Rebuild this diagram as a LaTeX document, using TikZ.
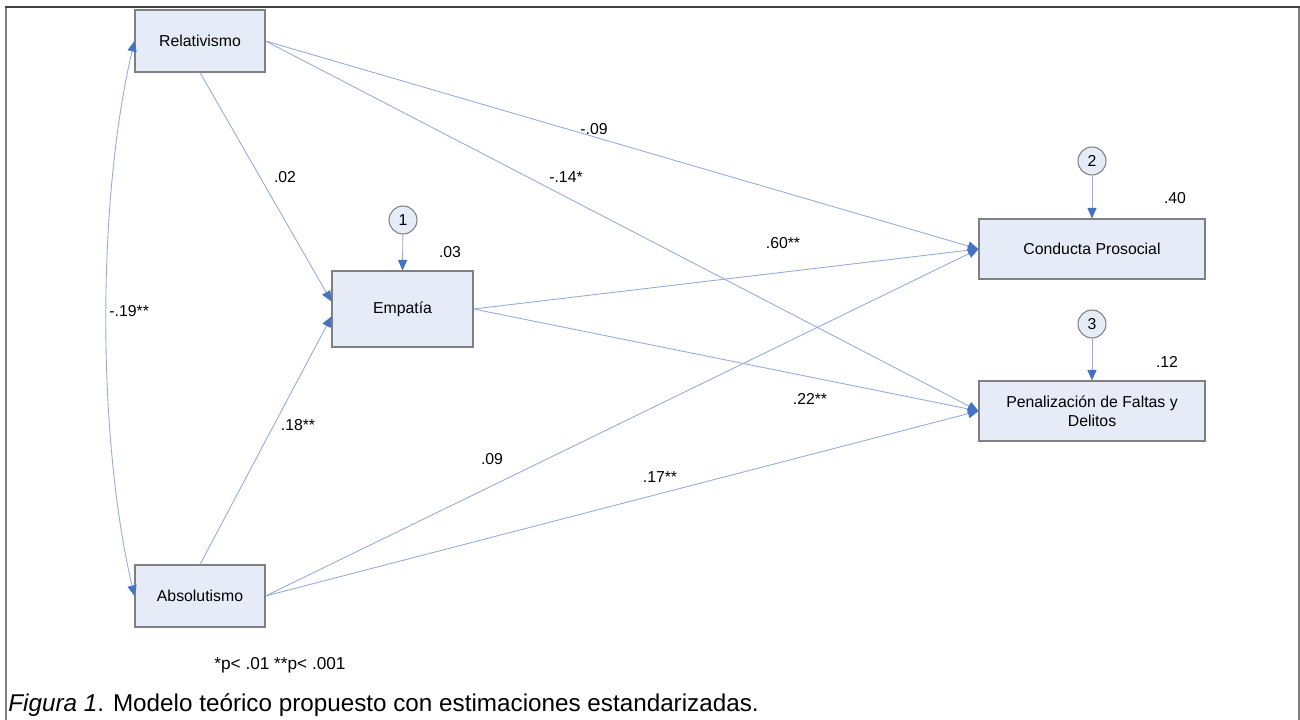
\documentclass[tikz,border=0pt]{standalone}
\usepackage{fontspec}
\setmainfont{Liberation Sans}
\usepackage{tikz}
\usetikzlibrary{arrows.meta}
\definecolor{boxfill}{HTML}{E6ECF7}
\definecolor{boxline}{HTML}{808080}
\definecolor{linkblue}{HTML}{95ABD8}
\definecolor{tipblue}{HTML}{4472C4}
\definecolor{framegray}{HTML}{404040}

\begin{document}
\begin{tikzpicture}[x=0.2mm,y=-0.2mm,
    var/.style={draw=boxline,fill=boxfill,line width=0.6pt,inner sep=2pt,
      font=\fontsize{9}{11}\selectfont,align=center},
    errc/.style={circle,draw=boxline,fill=boxfill,line width=0.6pt,inner sep=0pt,
      minimum size=5.6mm,font=\fontsize{9}{11}\selectfont},
    coef/.style={draw=linkblue,line width=0.5pt,-{Triangle[length=6pt,width=5.2pt,color=tipblue]}},
    lbl/.style={font=\fontsize{9}{11}\selectfont,inner sep=0pt}]
  \useasboundingbox (0,0) rectangle (1300,720);
  % frame
  \draw[boxline,line width=0.8pt] (6,720)--(6,7);
  \draw[boxline,line width=0.8pt] (1299,7)--(1299,720);
  \draw[framegray,line width=1.3pt] (5,7)--(1300,7);
  % variables
  \node[var,minimum width=26mm,minimum height=12.4mm] (rel) at (200,41) {Relativismo};
  \node[var,minimum width=26mm,minimum height=12.4mm] (abs) at (200,596) {Absolutismo};
  \node[var,minimum width=28.2mm,minimum height=15.2mm] (emp) at (402.5,309) {Empatía};
  \node[var,minimum width=45.2mm,minimum height=12mm] (cp) at (1092,249) {Conducta Prosocial};
  \node[var,minimum width=45.2mm,minimum height=12mm] (pen) at (1092,411) {Penalización de Faltas y\\Delitos};
  % errors
  \node[errc] (e1) at (403,220) {1};
  \node[errc] (e2) at (1092,161) {2};
  \node[errc] (e3) at (1092,324) {3};
  \draw[coef] (e1) -- (emp.north);
  \draw[coef] (e2) -- (cp.north);
  \draw[coef] (e3) -- (pen.north);
  % paths
  \draw[coef] (rel.east) -- (cp.west);
  \draw[coef] (rel.east) -- (pen.west);
  \draw[coef] (rel.south) -- (emp.174);
  \draw[coef] (abs.north) -- (emp.186);
  \draw[coef] (emp.east) -- (cp.west);
  \draw[coef] (emp.east) -- (pen.west);
  \draw[coef] (abs.east) -- (cp.west);
  \draw[coef] (abs.east) -- (pen.west);
  \draw[coef,{Triangle[length=6pt,width=5.2pt,color=tipblue]}-{Triangle[length=6pt,width=5.2pt,color=tipblue]}]
    (rel.west) .. controls (97,200) and (97,437) .. (abs.west);
  % coefficients
  \node[lbl] (l1) at (594,129) {-.09};
  \node[lbl] (l2) at (566,177) {-.14*};
  \node[lbl] (l3) at (285,177) {.02};
  \node[lbl] (l4) at (298,425) {.18**};
  \node[lbl] (l5) at (783,243) {.60**};
  \node[lbl] (l6) at (810,399) {.22**};
  \node[lbl] (l7) at (492,459) {.09};
  \node[lbl] (l8) at (660,477) {.17**};
  \node[lbl,anchor=west] (l9) at (109,311) {-.19**};
  \node[lbl] (r1) at (450,252) {.03};
  \node[lbl] (r2) at (1175,198) {.40};
  \node[lbl] (r3) at (1167,362) {.12};
  % notes
  \node[lbl,font=\fontsize{9.8}{12}\selectfont] (note) at (280,665) {*p< .01 **p< .001};
  \node[anchor=base west,inner sep=0pt,font=\fontsize{13.8}{16}\selectfont] (cap) at (8,711)
    {\textit{Figura 1}. Modelo teórico propuesto con estimaciones estandarizadas.};
\end{tikzpicture}
\end{document}
